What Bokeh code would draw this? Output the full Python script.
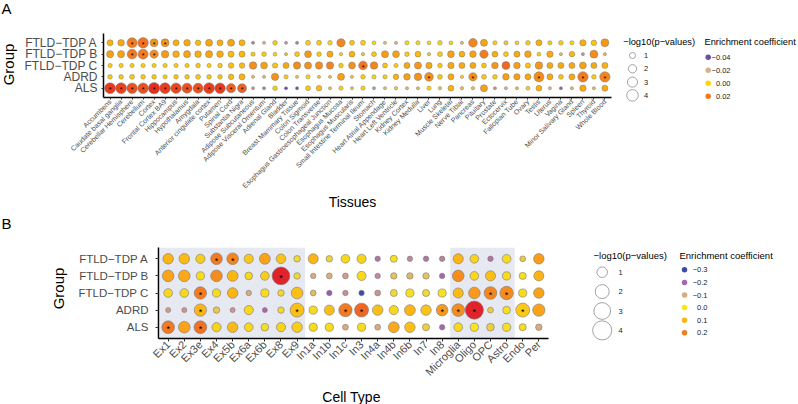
import math
from bokeh.plotting import figure
from bokeh.models import FactorRange, Range1d, BoxAnnotation, ColumnDataSource
from bokeh.layouts import row, column
from bokeh.embed import file_html
from bokeh.resources import INLINE
from bokeh.core.properties import value

FONT = "Liberation Sans"

# ---------------- data: panel A (tissues) ----------------
groups = ["FTLD−TDP A", "FTLD−TDP B", "FTLD−TDP C", "ADRD", "ALS"]

tissues = ["Accumbens", "Caudate basal ganglia", "Cerebellar Hemisphere", "Cerebellum", "Cortex",
           "Frontal Cortex BA9", "Hippocampus", "Hypothalamus", "Amygdala", "Anterior cingulate cortex",
           "Putamen", "Spinal Cord", "Substantia Nigra", "Adipose Subcutaneous", "Adipose Visceral Omentum",
           "Adrenal Gland", "Bladder", "Breast Mammary Tissue", "Colon Sigmoid", "Colon Transverse",
           "Esophagus Gastroesophageal Junction", "Esophagus Mucosa", "Esophagus Muscularis",
           "Small Intestine Terminal Ileum", "Stomach", "Heart Atrial Appendage", "Heart Left Ventricle",
           "Kidney Cortex", "Kidney Medulla", "Liver", "Lung", "Muscle Skeletal", "Nerve Tibial", "Pancreas",
           "Pituitary", "Prostate", "Ectocervix", "Fallopian Tube", "Ovary", "Testis", "Uterus", "Vagina",
           "Minor Salivary Gland", "Spleen", "Thyroid", "Whole Blood"]

tis_coef_ftld_a = [0.008, 0.01, 0.02, 0.022, 0.015, 0.015, 0.009, 0.01, 0.006, 0.011, 0.009, 0.011, 0.008,
                   -0.03, -0.02, 0.002, -0.025, -0.03, 0.002, 0.002, 0.0, 0.018, 0.004, 0.002, 0.0, -0.015,
                   -0.02, 0.0, 0.0, 0.0, 0.0, 0.0, -0.015, 0.018, 0.011, 0.002, -0.008, -0.005, 0.002, 0.009,
                   0.002, 0.002, 0.0, 0.009, 0.004, 0.014]
tis_p_ftld_a = [1.0, 1.2, 3.0, 3.3, 1.8, 1.8, 1.0, 1.2, 0.8, 1.4, 1.0, 1.4, 1.0, 0.15, 0.15, 0.5, 0.15, 0.15,
                0.6, 0.6, 0.5, 2.0, 0.6, 0.6, 0.3, 0.15, 0.15, 0.4, 0.4, 0.3, 0.5, 0.3, 0.15, 2.2, 1.4, 0.4,
                0.4, 0.3, 0.5, 1.0, 0.4, 0.5, 0.4, 1.1, 0.8, 1.8]

tis_coef_ftld_b = [0.012, 0.011, 0.02, 0.02, 0.016, 0.013, 0.009, 0.011, 0.009, 0.011, 0.009, 0.006, 0.007,
                   0.002, 0.002, 0.001, -0.012, 0.003, 0.014, 0.002, 0.01, -0.005, 0.008, -0.01, 0.003,
                   0.013, 0.012, 0.002, 0.006, -0.01, 0.002, 0.012, 0.009, 0.011, 0.02, 0.009, 0.003, 0.01,
                   0.011, 0.001, 0.01, -0.015, 0.007, -0.025, 0.016, -0.015]
tis_p_ftld_b = [1.4, 1.4, 2.8, 3.0, 2.0, 1.6, 1.2, 1.4, 1.2, 1.4, 1.2, 1.0, 1.0, 0.4, 0.5, 0.3, 0.15, 0.6,
                1.3, 0.5, 1.0, 0.2, 0.9, 0.2, 0.6, 1.4, 1.3, 0.5, 0.9, 0.2, 0.6, 1.3, 0.9, 1.2, 2.0, 0.9,
                0.6, 1.0, 1.2, 0.3, 1.1, 0.15, 0.8, 0.15, 1.8, 0.15]

tis_coef_ftld_c = [0.002, 0.002, 0.002, 0.002, 0.002, 0.002, 0.002, 0.002, 0.003, 0.002, 0.003, 0.005, 0.006,
                   0.016, 0.012, 0.004, 0.01, 0.016, 0.015, 0.016, 0.018, 0.003, 0.015, 0.022, 0.018, 0.004,
                   0.002, 0.01, 0.014, 0.01, 0.003, 0.01, 0.01, 0.01, 0.004, 0.014, 0.024, 0.012, 0.004,
                   0.014, 0.01, 0.01, 0.01, 0.012, 0.01, 0.008]
tis_p_ftld_c = [0.4, 0.4, 0.4, 0.4, 0.4, 0.4, 0.4, 0.4, 0.5, 0.4, 0.5, 0.8, 0.8, 1.6, 1.3, 0.7, 1.0, 1.5,
                1.4, 1.5, 1.5, 0.5, 1.3, 2.2, 1.6, 0.6, 0.4, 1.0, 1.4, 1.1, 0.5, 1.1, 1.0, 1.0, 0.6, 1.2,
                1.8, 1.2, 0.7, 1.6, 1.0, 1.0, 1.0, 1.3, 1.0, 1.0]

tis_coef_adrd = [0.003, 0.003, 0.003, 0.003, 0.003, 0.002, 0.003, 0.003, 0.003, 0.003, 0.003, 0.006, 0.008,
                 -0.015, -0.015, 0.015, 0.002, -0.01, 0.0, -0.01, -0.01, 0.012, -0.01, 0.002, 0.0, 0.002,
                 0.008, 0.012, 0.015, 0.016, 0.003, 0.01, -0.003, 0.016, 0.003, 0.002, 0.012, 0.012, 0.01,
                 0.016, 0.01, 0.004, 0.01, 0.02, 0.002, 0.018]
tis_p_adrd = [0.5, 0.5, 0.6, 0.5, 0.5, 0.4, 0.5, 0.5, 0.6, 0.5, 0.5, 0.8, 1.0, 0.15, 0.15, 1.5, 0.4, 0.15,
              0.4, 0.15, 0.15, 1.4, 0.15, 0.5, 0.4, 0.4, 0.8, 1.2, 1.6, 2.2, 0.6, 1.0, 0.2, 2.0, 0.6, 0.5,
              1.2, 1.1, 1.0, 3.0, 1.0, 0.6, 1.0, 3.2, 0.5, 3.2]

tis_coef_als = [0.035, 0.033, 0.03, 0.03, 0.038, 0.034, 0.032, 0.03, 0.03, 0.034, 0.035, 0.026, 0.026,
                -0.025, -0.03, 0.002, -0.04, -0.04, 0.003, 0.006, -0.012, 0.0, -0.01, 0.0, -0.025, -0.015,
                -0.008, -0.015, -0.015, 0.0, -0.012, 0.008, -0.012, -0.012, 0.012, -0.025, -0.02, -0.015,
                -0.005, 0.008, -0.015, -0.035, -0.015, 0.01, -0.015, 0.01]
tis_p_als = [3.5, 3.5, 3.3, 3.3, 3.8, 3.5, 3.2, 3.0, 3.0, 3.5, 3.3, 2.5, 2.4, 0.15, 0.15, 0.5, 0.15, 0.15,
             0.6, 0.8, 0.15, 0.4, 0.15, 0.4, 0.15, 0.15, 0.2, 0.15, 0.15, 0.4, 0.2, 0.9, 0.2, 0.2, 1.4,
             0.15, 0.15, 0.15, 0.3, 0.9, 0.15, 0.15, 0.15, 1.1, 0.15, 1.0]

tis_sig = {
    "FTLD−TDP A": ["Cerebellar Hemisphere", "Cerebellum", "Cortex", "Frontal Cortex BA9"],
    "FTLD−TDP B": ["Cerebellar Hemisphere", "Cerebellum", "Cortex"],
    "FTLD−TDP C": ["Small Intestine Terminal Ileum"],
    "ADRD": ["Liver", "Pancreas", "Testis", "Spleen", "Whole Blood"],
    "ALS": tissues[:13],
}

tis_p_breaks = [1, 2, 3, 4]
tis_coef_breaks = [-0.04, -0.02, 0.00, 0.02]

# ---------------- data: panel B (cell types) ----------------
cell_types = ["Ex1", "Ex2", "Ex3e", "Ex4", "Ex5b", "Ex6a", "Ex6b", "Ex8", "Ex9", "In1a", "In1b", "In1c",
              "In3", "In4a", "In4b", "In6b", "In7", "In8", "Microglia", "Oligo", "OPC", "Astro", "Endo", "Per"]
shaded_blocks = [["Ex1", "Ex9"], ["Microglia", "Astro"]]

cell_coef_ftld_a = [0.1, 0.09, 0.05, 0.2, 0.18, 0.06, 0.13, 0.07, -0.02, 0.1, -0.03, 0.03, 0.04, -0.18, 0.01,
                    -0.15, -0.18, -0.16, 0.1, 0.04, -0.18, 0.02, -0.05, 0.14]
cell_p_ftld_a = [1.0, 1.0, 0.7, 1.3, 1.3, 0.7, 1.1, 0.8, 0.2, 0.9, 0.2, 0.6, 0.7, 0.05, 0.3, 0.05, 0.05, 0.05,
                 0.9, 0.6, 0.05, 0.6, 0.1, 1.0]
cell_coef_ftld_b = [0.13, 0.12, 0.02, 0.17, 0.1, 0.03, 0.05, 0.3, -0.02, -0.1, -0.09, -0.12, 0.03, -0.15,
                    -0.06, -0.08, -0.06, -0.2, 0.17, 0.03, 0.08, 0.02, 0.01, 0.1]
cell_p_ftld_b = [1.3, 1.3, 0.5, 1.3, 1.1, 0.4, 0.6, 3.4, 0.2, 0.05, 0.1, 0.1, 0.7, 0.05, 0.2, 0.2, 0.2, 0.05,
                 1.3, 0.6, 0.9, 0.5, 0.3, 0.9]
cell_coef_ftld_c = [0.03, 0.03, 0.2, 0.02, 0.1, -0.1, 0.02, -0.02, 0.08, -0.07, -0.22, -0.14, -0.3, -0.13,
                    -0.02, 0.01, -0.02, 0.01, 0.09, 0.15, 0.18, 0.17, 0.02, 0.13]
cell_p_ftld_c = [0.6, 0.6, 1.5, 0.5, 1.0, 0.05, 0.5, 0.2, 1.3, 0.1, 0.05, 0.05, 0.05, 0.1, 0.3, 0.5, 0.3, 0.5,
                 0.9, 1.3, 1.6, 1.8, 0.5, 1.0]
cell_coef_adrd = [-0.12, -0.13, 0.1, -0.05, -0.13, 0.03, -0.2, -0.02, 0.08, 0.02, 0.08, 0.2, 0.22, 0.08, 0.03,
                  0.1, 0.07, 0.15, 0.17, 0.3, -0.04, 0.01, 0.06, 0.13]
cell_p_adrd = [0.0, 0.0, 1.5, 0.2, 0.0, 0.7, 0.0, 0.2, 2.0, 0.5, 0.9, 1.8, 2.0, 1.0, 0.7, 1.1, 1.0, 1.3, 1.6,
               3.6, 0.1, 0.4, 2.0, 1.5]
cell_coef_als = [0.2, 0.13, 0.21, 0.04, 0.09, 0.03, -0.01, 0.04, 0.05, 0.02, 0.02, -0.1, 0.02, -0.1, 0.12,
                 0.08, -0.04, -0.2, 0.03, 0.0, -0.04, -0.01, 0.02, -0.1]
cell_p_als = [1.6, 1.3, 1.6, 0.7, 1.0, 0.6, 0.4, 0.7, 1.0, 0.5, 0.5, 0.1, 0.5, 0.1, 1.1, 1.0, 0.3, 0.05, 0.6,
              0.5, 0.4, 0.5, 0.3, 0.2]

cell_sig = {
    "FTLD−TDP A": ["Ex4", "Ex5b"],
    "FTLD−TDP B": ["Ex8"],
    "FTLD−TDP C": ["Ex3e", "OPC", "Astro"],
    "ADRD": ["Ex3e", "Ex9", "In1c", "In3", "In8", "Microglia", "Oligo", "Endo"],
    "ALS": ["Ex1", "Ex3e"],
}

cell_p_breaks = [1, 2, 3, 4]
cell_coef_breaks = [-0.3, -0.2, -0.1, 0.0, 0.1, 0.2]

# ---------------- styling helpers ----------------
stops_A = [(-0.04, "#6a50a6"), (-0.02, "#d9b28c"), (0.0, "#ffd700"), (0.02, "#f27b21"), (0.04, "#e4241e")]
stops_B = [(-0.3, "#3b4ca6"), (-0.2, "#a965b4"), (-0.1, "#dcaa7c"), (0.0, "#f7e51d"),
           (0.1, "#fdb515"), (0.2, "#f27a22"), (0.3, "#e0222a")]


def hex2rgb(h):
    h = h.lstrip("#")
    return [int(h[i:i + 2], 16) for i in (0, 2, 4)]


def colmap(v, stops):
    if v <= stops[0][0]:
        return stops[0][1]
    if v >= stops[-1][0]:
        return stops[-1][1]
    for (a, ca), (b, cb) in zip(stops[:-1], stops[1:]):
        if a <= v <= b:
            t = (v - a) / (b - a)
            r1, r2 = hex2rgb(ca), hex2rgb(cb)
            c = [round(x + (y - x) * t) for x, y in zip(r1, r2)]
            return "#%02x%02x%02x" % tuple(c)
    return stops[-1][1]


def size_A(p):
    return math.sqrt(5 + 32 * p)


def size_B(p):
    return math.sqrt(25 + 85 * p)


def fmt_num(v, nd):
    s = f"{abs(v):.{nd}f}"
    return ("−" + s) if v < 0 else s


def make_source(cats, coef_rows, p_rows, sig, stops, sizefn):
    xs, ys, cs, ss = [], [], [], []
    sx, sy = [], []
    for g, coefs, ps in zip(groups, coef_rows, p_rows):
        for c, cv, pv in zip(cats, coefs, ps):
            xs.append(c)
            ys.append(g)
            cs.append(colmap(cv, stops))
            ss.append(sizefn(pv))
        for c in sig[g]:
            sx.append(c)
            sy.append(g)
    src = ColumnDataSource(dict(x=xs, y=ys, color=cs, size=ss))
    star = ColumnDataSource(dict(x=sx, y=sy, t=["*"] * len(sx)))
    return src, star


def style_axes(p, xfs, yfs, ystand, tick):
    p.xgrid.visible = False
    p.ygrid.visible = False
    p.outline_line_color = None
    p.axis.axis_line_color = "black"
    p.axis.axis_line_width = 1.5
    p.axis.major_tick_line_color = "#333333"
    p.axis.major_tick_out = tick
    p.axis.major_tick_in = 0
    p.axis.minor_tick_line_color = None
    p.axis.major_label_text_font = FONT
    p.axis.major_label_text_color = "#4d4d4d"
    p.xaxis.major_label_orientation = math.pi / 4
    p.xaxis.major_label_text_font_size = xfs
    p.yaxis.major_label_text_font_size = yfs
    p.xaxis.major_label_standoff = 1
    p.yaxis.major_label_standoff = ystand


def blank_fig(w, h):
    f = figure(width=w, height=h, x_range=Range1d(0, w), y_range=Range1d(h, 0),
               x_axis_location=None, y_axis_location=None, output_backend="svg",
               toolbar_location=None, min_border=0, title=None, frame_align=False)
    f.xgrid.visible = False
    f.ygrid.visible = False
    f.outline_line_color = None
    return f


def put_text(f, x, y, t, size, angle=0.0, align="center", baseline="middle", color="black"):
    f.text(x=[x], y=[y], text=[t], angle=angle, text_font=value(FONT), text_font_size=size,
           text_align=align, text_baseline=baseline, text_color=color)


def add_legend(f, tx1, tx2, ty, tfs, cx, cy0, cstep, lx, dx, dy0, dstep, rx, lfs,
               p_breaks, sizefn, coef_breaks, stops, nd):
    put_text(f, tx1, ty, "−log10(p−values)", tfs, align="left")
    put_text(f, tx2, ty, "Enrichment coefficient", tfs, align="left")
    cys = [cy0 + i * cstep for i in range(len(p_breaks))]
    f.scatter(x=[cx] * len(p_breaks), y=cys, size=[sizefn(v) for v in p_breaks],
              fill_color=None, line_color="#8c8c8c", line_width=0.8)
    f.text(x=[lx] * len(p_breaks), y=cys, text=[str(v) for v in p_breaks], text_font=value(FONT),
           text_font_size=lfs, text_align="left", text_baseline="middle", text_color="#222222")
    dys = [dy0 + i * dstep for i in range(len(coef_breaks))]
    f.scatter(x=[dx] * len(coef_breaks), y=dys, size=5.5, fill_color=[colmap(v, stops) for v in coef_breaks],
              line_color=None)
    f.text(x=[rx] * len(coef_breaks), y=dys, text=[fmt_num(v, nd) for v in coef_breaks],
           text_font=value(FONT), text_font_size=lfs, text_align="right", text_baseline="middle",
           text_color="#222222")


# ---------------- panel A ----------------
pA = figure(width=602, height=194,
            x_range=FactorRange(factors=tissues, range_padding=0.1, range_padding_units="absolute"),
            y_range=FactorRange(factors=groups[::-1], range_padding=0.32, range_padding_units="absolute"),
            output_backend="svg", toolbar_location=None, title=None, frame_align=False,
            min_border_left=85, min_border_right=9, min_border_top=33, min_border_bottom=97)
style_axes(pA, "7px", "12px", 4, 2)
srcA, starA = make_source(tissues,
                          [tis_coef_ftld_a, tis_coef_ftld_b, tis_coef_ftld_c, tis_coef_adrd, tis_coef_als],
                          [tis_p_ftld_a, tis_p_ftld_b, tis_p_ftld_c, tis_p_adrd, tis_p_als],
                          tis_sig, stops_A, size_A)
pA.scatter(x="x", y="y", size="size", fill_color="color", line_color="#7a7a7a", line_width=0.5, source=srcA)
pA.text(x="x", y="y", text="t", source=starA, text_font=value(FONT), text_font_size="7px",
        text_align="center", text_baseline="middle", y_offset=1.8, text_color="black")

sA = blank_fig(18, 194)
put_text(sA, 1, -0.5, "A", "15px", align="left", baseline="top")
put_text(sA, 8, 64, "Group", "15px", angle=math.pi / 2)

lA = blank_fig(178, 194)
add_legend(lA, 2.7, 84, 41.7, "9.3px", 12, 55, 13.3, 23.5, 87.7, 56.7, 13, 110, "7.5px",
           tis_p_breaks, size_A, tis_coef_breaks, stops_A, 2)

tA = blank_fig(798, 14)
put_text(tA, 352, 7, "Tissues", "14px")

# ---------------- panel B ----------------
pB = figure(width=490, height=180,
            x_range=FactorRange(factors=cell_types, range_padding=0.1, range_padding_units="absolute"),
            y_range=FactorRange(factors=groups[::-1], range_padding=0.16, range_padding_units="absolute"),
            output_backend="svg", toolbar_location=None, title=None, frame_align=False,
            min_border_left=88, min_border_right=12, min_border_top=39, min_border_bottom=50)
style_axes(pB, "11px", "11.5px", 7, 3)
for a, b in shaded_blocks:
    pB.add_layout(BoxAnnotation(left=cell_types.index(a), right=cell_types.index(b) + 1,
                                fill_color="#e6e8f2", fill_alpha=1.0, line_color=None, level="underlay"))
srcB, starB = make_source(cell_types,
                          [cell_coef_ftld_a, cell_coef_ftld_b, cell_coef_ftld_c, cell_coef_adrd, cell_coef_als],
                          [cell_p_ftld_a, cell_p_ftld_b, cell_p_ftld_c, cell_p_adrd, cell_p_als],
                          cell_sig, stops_B, size_B)
pB.scatter(x="x", y="y", size="size", fill_color="color", line_color="#7a7a7a", line_width=0.6, source=srcB)
pB.text(x="x", y="y", text="t", source=starB, text_font=value(FONT), text_font_size="9px",
        text_align="center", text_baseline="middle", y_offset=2.2, text_color="black")

sB = blank_fig(70, 180)
put_text(sB, 1, 14.5, "B", "15px", align="left", baseline="middle")
put_text(sB, 57.5, 80, "Group", "15px", angle=math.pi / 2)

lB = blank_fig(238, 180)
add_legend(lB, 33, 119, 47, "9.5px", 41.7, 63.7, 19.4, 58, 124, 61.3, 12.6, 147, "7.5px",
           cell_p_breaks, size_B, cell_coef_breaks, stops_B, 1)

tB = blank_fig(798, 16)
put_text(tB, 351, 8, "Cell Type", "14px")

layout = column(row(sA, pA, lA), tA, row(sB, pB, lB), tB)
open("out.html", "w").write(file_html(layout, INLINE))
